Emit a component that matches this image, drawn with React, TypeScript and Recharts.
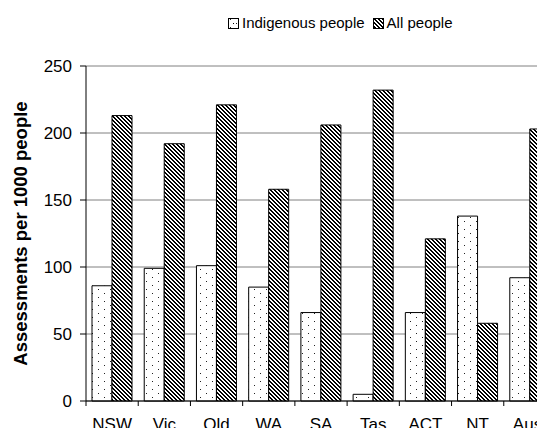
import { BarChart, Bar, XAxis, YAxis, CartesianGrid, Legend } from "recharts";

const states = ["NSW", "Vic", "Qld", "WA", "SA", "Tas", "ACT", "NT", "Aust"];
const indigenous = [86, 99, 101, 85, 66, 5, 66, 138, 92];
const allPeople = [213, 192, 221, 158, 206, 232, 121, 58, 203];
const yTicks = [0, 50, 100, 150, 200, 250];

const data = states.map((state, i) => ({
  state,
  indigenous: indigenous[i],
  all: allPeople[i],
}));

const FONT = "'Liberation Sans', Arial, sans-serif";

// 4x4 pixel diagonal hatch, drawn as rects so it stays crisp
const hatchCells: [number, number][] = [];
for (let y = 0; y < 4; y++) {
  hatchCells.push([y % 4, y], [(y + 1) % 4, y]);
}

function Patterns({ prefix }: { prefix: string }) {
  return (
    <defs>
      <pattern id={`${prefix}-dots`} patternUnits="userSpaceOnUse" width={12} height={8}>
        <rect width={12} height={8} fill="#fff" />
        <rect x={2} y={1} width={1} height={1} fill="#222" />
        <rect x={8} y={5} width={1} height={1} fill="#222" />
      </pattern>
      <pattern id={`${prefix}-hatch`} patternUnits="userSpaceOnUse" width={4} height={4}>
        <rect width={4} height={4} fill="#fff" />
        {hatchCells.map(([x, y]) => (
          <rect key={`${x}-${y}`} x={x} y={y} width={1} height={1} fill="#000" shapeRendering="crispEdges" />
        ))}
      </pattern>
    </defs>
  );
}

function XTick(props: any) {
  const { x, y, payload } = props;
  const off = payload?.offset ?? 0;
  return (
    <g>
      <line x1={x - off} x2={x - off} y1={y} y2={y + 5} stroke="#000" />
      <text x={x} y={y + 29} textAnchor="middle" fontSize={17} fontFamily={FONT} fill="#000">
        {payload.value}
      </text>
    </g>
  );
}

function LegendBox() {
  const item = (id: string, label: string) => (
    <span style={{ display: "inline-flex", alignItems: "center", marginRight: 8 }}>
      <svg width={11} height={11} style={{ marginRight: 3 }}>
        <Patterns prefix={`lg-${id}`} />
        <rect x={0.5} y={0.5} width={10} height={10} fill={`url(#lg-${id}-${id})`} stroke="#000" />
        {id === "dots" && <rect x={5} y={5} width={1} height={1} fill="#000" />}
      </svg>
      {label}
    </span>
  );
  return (
    <div
      style={{
        height: 52,
        display: "flex",
        alignItems: "flex-start",
        paddingLeft: 228,
        fontFamily: FONT,
        fontSize: 15,
        lineHeight: "18px",
        color: "#000",
      }}
    >
      {item("dots", "Indigenous people")}
      {item("hatch", "All people")}
    </div>
  );
}

export default function App() {
  return (
    <div style={{ margin: -8, width: 545, height: 436, overflow: "hidden", background: "#fff" }}>
      <BarChart
        width={570}
        height={436}
        data={data}
        margin={{ top: 14, right: 14, left: 0, bottom: 0 }}
        barCategoryGap="11.5%"
        barGap={0}
      >
        <Patterns prefix="c" />
        <Legend verticalAlign="top" align="left" content={() => <LegendBox />} />
        <CartesianGrid vertical={false} stroke="#808080" />
        <XAxis
          dataKey="state"
          height={35}
          axisLine={{ stroke: "#000" }}
          tickLine={false}
          tickSize={0}
          tickMargin={0}
          tick={<XTick />}
          interval={0}
        />
        <YAxis
          width={86}
          domain={[0, 250]}
          ticks={yTicks}
          interval={0}
          axisLine={{ stroke: "#000" }}
          tickLine={{ stroke: "#000" }}
          tickSize={6}
          tickMargin={8}
          tick={{ fontSize: 17, fill: "#000", fontFamily: FONT }}
          label={({ viewBox }: any) => {
            const cx = 20;
            const cy = viewBox.y + viewBox.height / 2;
            return (
              <text
                x={cx}
                y={cy}
                transform={`rotate(-90, ${cx}, ${cy})`}
                textAnchor="middle"
                dominantBaseline="central"
                fontSize={18.5}
                fontWeight="bold"
                fontFamily={FONT}
                fill="#000"
              >
                Assessments per 1000 people
              </text>
            );
          }}
        />
        <Bar dataKey="indigenous" name="Indigenous people" fill="url(#c-dots)" stroke="#000" strokeWidth={1} isAnimationActive={false} />
        <Bar dataKey="all" name="All people" fill="url(#c-hatch)" stroke="#000" strokeWidth={1} isAnimationActive={false} />
      </BarChart>
    </div>
  );
}
